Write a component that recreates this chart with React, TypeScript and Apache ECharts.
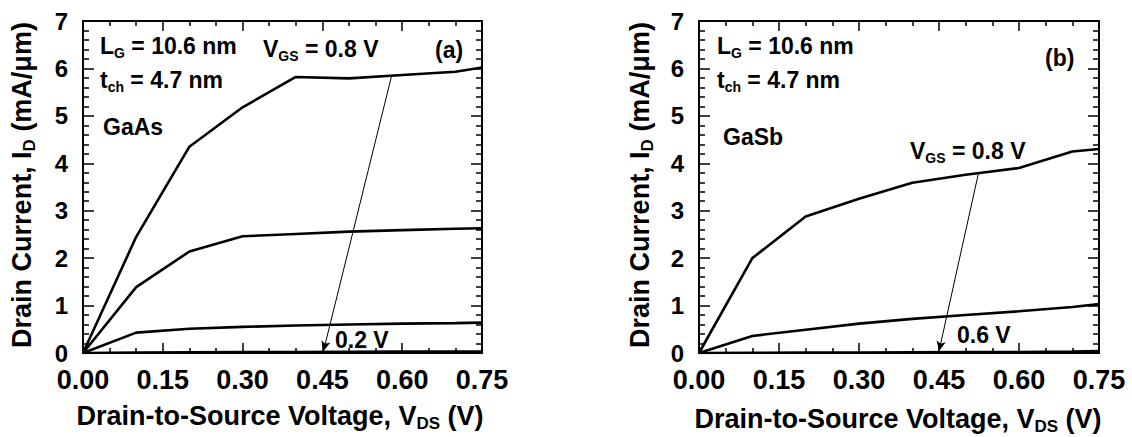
import React, { useEffect, useRef } from "react";
import * as echarts from "echarts";

const vds = [0, 0.1, 0.2, 0.3, 0.4, 0.5, 0.6, 0.7, 0.75];
const xTicks = [0, 0.15, 0.3, 0.45, 0.6, 0.75];

// (a) GaAs
const gaasVgs08 = [0, 2.45, 4.35, 5.18, 5.82, 5.79, 5.86, 5.93, 6.02];
const gaasVgs06 = [0, 1.39, 2.14, 2.46, 2.51, 2.56, 2.59, 2.62, 2.63];
const gaasVgs04 = [0, 0.43, 0.51, 0.55, 0.58, 0.6, 0.62, 0.63, 0.64];
const gaasVgs02 = [0, 0.01, 0.015, 0.02, 0.02, 0.025, 0.03, 0.03, 0.03];
const arrowA = [[0.58, 5.84], [0.452, 0.04]];

// (b) GaSb
const gasbVgs08 = [0, 2.0, 2.88, 3.25, 3.59, 3.76, 3.9, 4.25, 4.3];
const gasbVgs07 = [0, 0.36, 0.49, 0.62, 0.72, 0.8, 0.88, 0.97, 1.03];
const gasbVgs06 = [0, 0.005, 0.01, 0.01, 0.015, 0.02, 0.02, 0.03, 0.04];
const arrowB = [[0.524, 3.79], [0.45, 0.04]];

const FONT = "Liberation Sans, Arial, sans-serif";

const rich = (size: number, sub: number, lh: number, slh: number) => ({
  n: { fontSize: size, fontWeight: "bold", fontFamily: FONT, fill: "#000", lineHeight: lh, verticalAlign: "middle" },
  s: { fontSize: sub, fontWeight: "bold", fontFamily: FONT, fill: "#000", lineHeight: slh, verticalAlign: "bottom" },
});

function textEl(x: number, y: number, text: string, size = 23, align = "left", rotation = 0) {
  return {
    type: "text",
    x,
    y,
    rotation,
    silent: true,
    style: {
      text,
      align,
      verticalAlign: "middle",
      fill: "#000",
      fontSize: size,
      fontWeight: "bold",
      fontFamily: FONT,
      rich: rich(size, Math.round(size * 0.62), size + 5, Math.round(size * 0.5)),
    },
  };
}

function xAxes(grid: number) {
  const common = {
    gridIndex: grid,
    type: "value",
    min: 0,
    max: 0.75,
    interval: 0.15,
    axisLine: { onZero: false, lineStyle: { color: "#000", width: 2 } },
    axisTick: { inside: true, length: 10, lineStyle: { color: "#000", width: 1.5 } },
    minorTick: { show: true, splitNumber: 3, length: 5, lineStyle: { color: "#000", width: 1.5 } },
    splitLine: { show: false },
    minorSplitLine: { show: false },
  };
  return [
    {
      ...common,
      position: "bottom",
      axisLabel: {
        fontSize: 27,
        fontWeight: "bold",
        fontFamily: FONT,
        color: "#000",
        lineHeight: 22,
        margin: 16,
        formatter: (v: number) => {
          const t = xTicks.find((k) => Math.abs(k - v) < 1e-6);
          return t === undefined ? "" : t.toFixed(2);
        },
      },
    },
    { ...common, position: "top", axisLabel: { show: false } },
  ];
}

function yAxes(grid: number) {
  const common = {
    gridIndex: grid,
    type: "value",
    min: 0,
    max: 7,
    interval: 1,
    axisLine: { onZero: false, lineStyle: { color: "#000", width: 2 } },
    axisTick: { inside: true, length: 11, lineStyle: { color: "#000", width: 1.5 } },
    minorTick: { show: true, splitNumber: 5, length: 6, lineStyle: { color: "#000", width: 1.5 } },
    splitLine: { show: false },
    minorSplitLine: { show: false },
  };
  return [
    {
      ...common,
      position: "left",
      axisLabel: { fontSize: 24, fontWeight: "bold", fontFamily: FONT, color: "#000", lineHeight: 18, margin: 15 },
    },
    { ...common, position: "right", axisLabel: { show: false } },
  ];
}

const pts = (ys: number[]) => vds.map((v, i) => [v, ys[i]]);

function curve(ys: number[], xi: number, yi: number, arrow?: number[][]) {
  const s: any = {
    type: "line",
    xAxisIndex: xi,
    yAxisIndex: yi,
    data: pts(ys),
    showSymbol: false,
    symbol: "none",
    lineStyle: { color: "#000", width: 2.6 },
    silent: true,
  };
  if (arrow) {
    s.markLine = {
      silent: true,
      symbol: ["none", "arrow"],
      symbolSize: [7, 10],
      lineStyle: { color: "#000", width: 1, type: "solid" },
      label: { show: false },
      data: [[{ coord: arrow[0] }, { coord: arrow[1] }]],
    };
  }
  return s;
}

export default function App() {
  const ref = useRef<HTMLDivElement>(null);
  useEffect(() => {
    if (!ref.current) return;
    const chart = echarts.init(ref.current, null, { renderer: "svg" });
    chart.setOption({
      animation: false,
      backgroundColor: "#fff",
      grid: [
        { left: 83, top: 21, width: 399, height: 332 },
        { left: 699, top: 21, width: 400, height: 332 },
      ],
      xAxis: [...xAxes(0), ...xAxes(1)],
      yAxis: [...yAxes(0), ...yAxes(1)],
      series: [
        curve(gaasVgs08, 0, 0),
        curve(gaasVgs06, 0, 0),
        curve(gaasVgs04, 0, 0),
        curve(gaasVgs02, 0, 0, arrowA),
        curve(gasbVgs08, 2, 2),
        curve(gasbVgs07, 2, 2),
        curve(gasbVgs06, 2, 2, arrowB),
      ],
      graphic: [
        // panel (a)
        textEl(100, 46, "{n|L}{s|G}{n| = 10.6 nm}"),
        textEl(100, 80, "{n|t}{s|ch}{n| = 4.7 nm}"),
        textEl(103, 127, "{n|GaAs}"),
        textEl(263, 49, "{n|V}{s|GS}{n| = 0.8 V}"),
        textEl(435, 50, "{n|(a)}"),
        textEl(335, 340, "{n|0.2 V}"),
        textEl(280, 416, "{n|Drain-to-Source Voltage, V}{s|DS}{n| (V)}", 27, "center"),
        textEl(22, 185, "{n|Drain Current, I}{s|D}{n| (mA/μm)}", 27, "center", Math.PI / 2),
        // panel (b)
        textEl(717, 46, "{n|L}{s|G}{n| = 10.6 nm}"),
        textEl(717, 80, "{n|t}{s|ch}{n| = 4.7 nm}"),
        textEl(723, 137, "{n|GaSb}"),
        textEl(910, 151, "{n|V}{s|GS}{n| = 0.8 V}"),
        textEl(1045, 58, "{n|(b)}"),
        textEl(957, 335, "{n|0.6 V}"),
        textEl(898, 419, "{n|Drain-to-Source Voltage, V}{s|DS}{n| (V)}", 27, "center"),
        textEl(640, 185, "{n|Drain Current, I}{s|D}{n| (mA/μm)}", 27, "center", Math.PI / 2),
      ],
    });
    return () => chart.dispose();
  }, []);
  return (
    <div
      ref={ref}
      style={{ position: "fixed", left: 0, top: 0, width: 1132, height: 437, background: "#fff" }}
    />
  );
}
